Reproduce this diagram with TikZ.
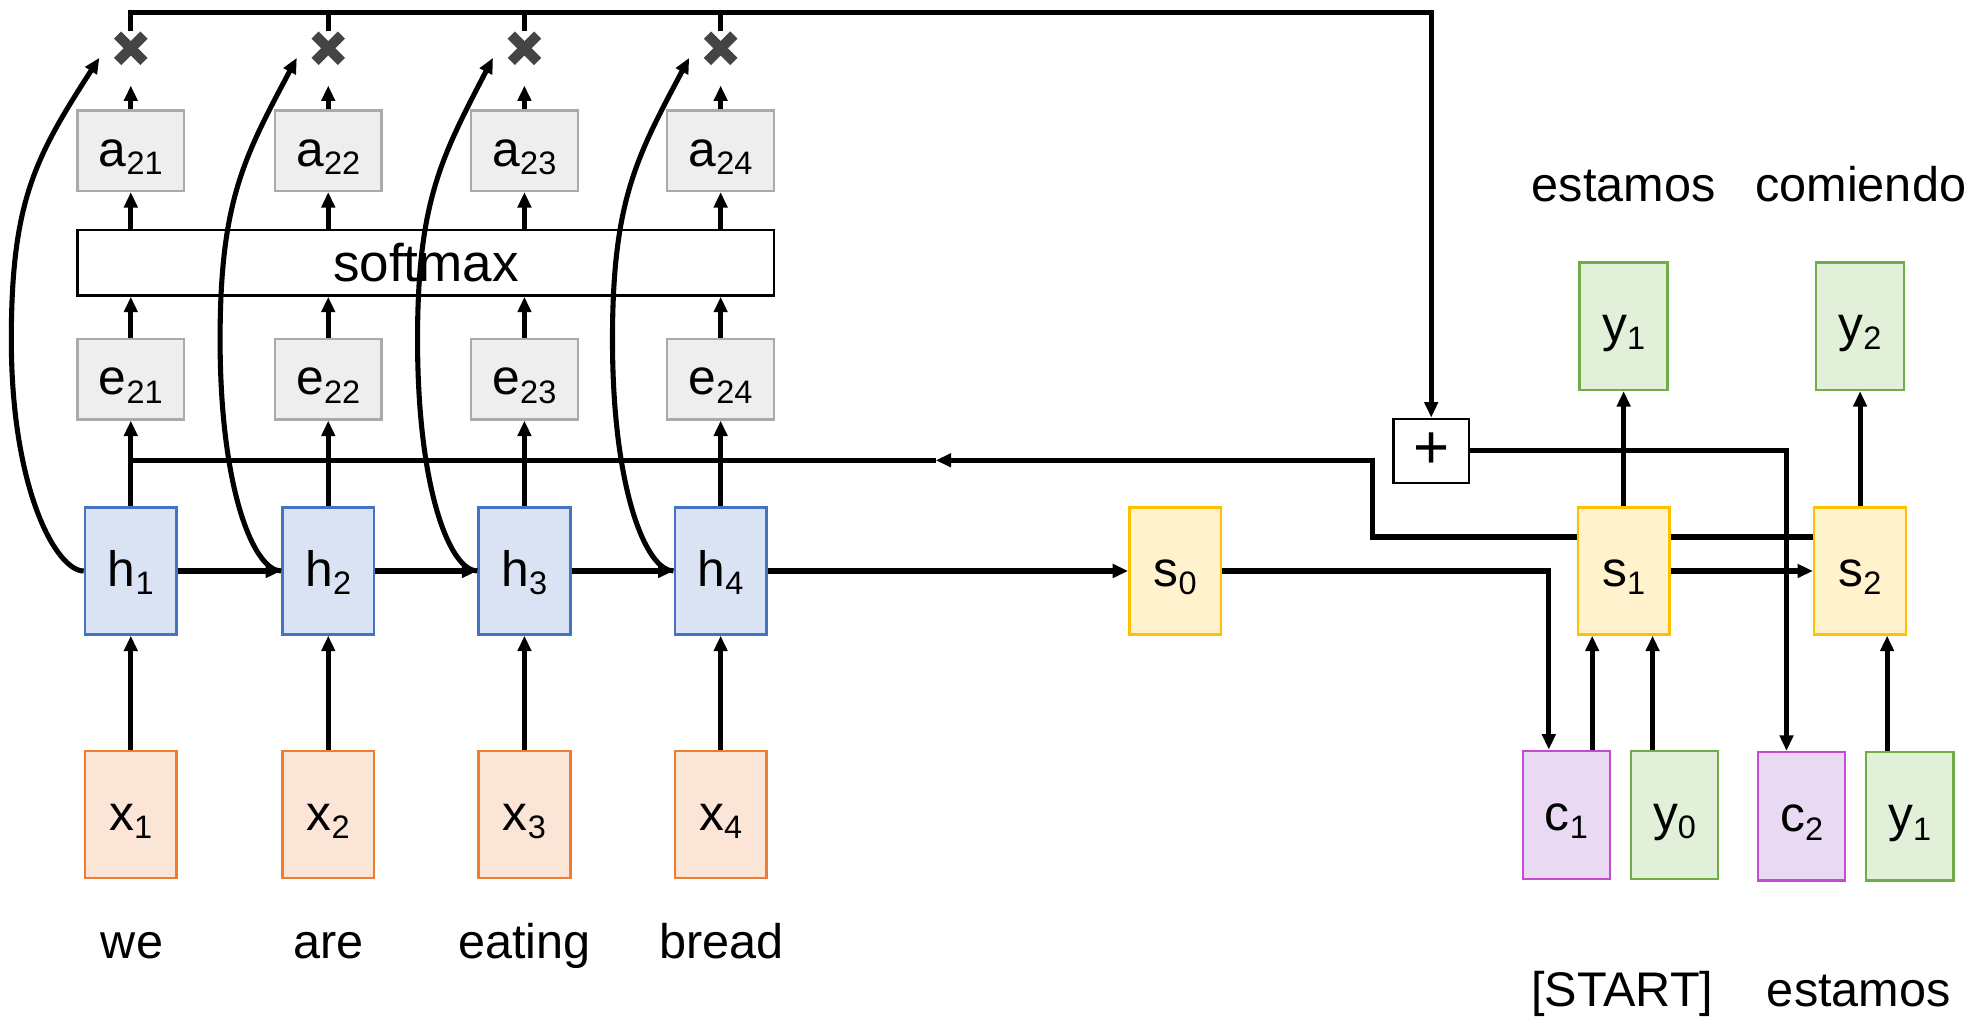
\documentclass[tikz,border=0pt]{standalone}
\usepackage{fontspec}
\setmainfont{Liberation Sans}
\usetikzlibrary{arrows.meta}
\definecolor{orF}{HTML}{FBE5D6}\definecolor{orD}{HTML}{ED7D31}
\definecolor{blF}{HTML}{DAE3F3}\definecolor{blD}{HTML}{4472C4}
\definecolor{grF}{HTML}{EEEEEE}\definecolor{grD}{HTML}{AAAAAA}
\definecolor{ylF}{HTML}{FFF2CC}\definecolor{ylD}{HTML}{FFC000}
\definecolor{gnF}{HTML}{E2EFD9}\definecolor{gnD}{HTML}{70AD47}
\definecolor{puF}{HTML}{E9D9F3}\definecolor{puD}{HTML}{C24BCF}
\definecolor{mulgray}{HTML}{444444}
\newcommand{\subi}[1]{\raisebox{-3.7pt}{\fontsize{14.7}{15}\selectfont #1}}
\begin{document}
\begin{tikzpicture}[x=0.02cm,y=-0.02cm,
  lbl/.style={font=\fontsize{22.5}{24}\selectfont, text height=0.6cm, text depth=0.1cm, inner sep=0pt},
  box/.style={lbl, draw, line width=1.1pt, minimum width=1.46cm, minimum height=2.02cm},
  xbox/.style={box, fill=orF, draw=orD},
  hbox/.style={box, fill=blF, draw=blD},
  sbox/.style={box, fill=ylF, draw=ylD},
  ybox/.style={box, fill=gnF, draw=gnD, minimum width=1.39cm, minimum height=2.04cm},
  cbox/.style={box, fill=puF, draw=puD, minimum width=1.38cm, minimum height=2.04cm},
  gbox/.style={lbl, draw=grD, fill=grF, line width=1.1pt, minimum width=1.70cm, minimum height=1.28cm},
  opbox/.style={draw=black, fill=white, line width=1.1pt, inner sep=0pt},
  word/.style={font=\fontsize{22}{24}\selectfont, inner sep=0pt, anchor=base},
  conn/.style={line width=2.3pt},
  arr/.style={conn, -{Triangle[length=7pt,width=6pt]}},
  mulx/.style={line width=4.6pt, color=mulgray},
  mulnode/.style={inner sep=0pt, minimum size=0.52cm},
]
\useasboundingbox (0,0) rectangle (1568,810);

% ---- encoder columns ----
\foreach \i/\cx in {1/104,2/261,3/417,4/573}{
  \node[xbox] (x\i) at (\cx,647.5) {x\subi{\i}};
  \node[hbox] (h\i) at (\cx,454) {h\subi{\i}};
  \node[gbox] (e\i) at (\cx,301.5) {e\subi{2\i}};
  \node[gbox] (a\i) at (\cx,119.8) {a\subi{2\i}};
  \node[mulnode] (m\i) at (\cx,38.4) {};
  \coordinate (am\i) at (\cx,68);
}
\node[opbox, minimum width=11.08cm, minimum height=1.04cm, font=\fontsize{24}{26}\selectfont] (sm) at (338.6,209) {softmax};

% ---- decoder ----
\node[sbox] (s0) at (934.5,454) {s\subi{0}};
\node[sbox] (s1) at (1291,454) {s\subi{1}};
\node[sbox] (s2) at (1479,454) {s\subi{2}};
\node[cbox] (c1) at (1245.5,648) {c\subi{1}};
\node[ybox] (y0) at (1331.5,648) {y\subi{0}};
\node[cbox] (c2) at (1432.5,649) {c\subi{2}};
\node[ybox] (yb1) at (1518.5,649) {y\subi{1}};
\node[ybox, minimum width=1.40cm, minimum height=2.03cm] (yt1) at (1291,259.3) {y\subi{1}};
\node[ybox, minimum width=1.40cm, minimum height=2.03cm] (yt2) at (1479,259.3) {y\subi{2}};
\node[opbox, minimum width=1.2cm, minimum height=1.02cm, font=\fontsize{28}{30}\selectfont] (plus) at (1138,358.5) {+};

% ---- words ----
\node[word] (w1) at (105,761.8) {we};
\node[word] (w2) at (261,761.8) {are};
\node[word] (w3) at (417,761.8) {eating};
\node[word] (w4) at (573.5,761.8) {bread};
\node[word] (w5) at (1290,800.2) {[START]};
\node[word] (w6) at (1478,800.2) {estamos};
\node[word] (w7) at (1291,160.3) {estamos};
\node[word] (w8) at (1479.5,160.3) {comiendo};

% ---- encoder connectors ----
\foreach \i/\cx/\L in {1/104/95,2/261/86,3/417/85,4/573/86}{
  \draw[arr] (x\i.north) -- (h\i.south);
  \draw[arr] (h\i.north) -- (e\i.south);
  \draw[arr] (e\i.north) -- (e\i.north |- sm.south);
  \draw[arr] (sm.north -| a\i) -- (a\i.south);
  \draw[arr] (a\i.north) -- (am\i);
  \draw[mulx] ([shift={(-10.5,-10.5)}]m\i.center) -- ([shift={(10.5,10.5)}]m\i.center);
  \draw[mulx] ([shift={(-10.5,10.5)}]m\i.center) -- ([shift={(10.5,-10.5)}]m\i.center);
  \coordinate (tip\i) at ({\cx-25},46);
  \draw[arr] (h\i.west) .. controls ({\cx-59},454) and ({\cx-\L},390) .. ({\cx-\L},270)
                        .. controls ({\cx-\L},160) and ({\cx-\L+19},125) .. (tip\i);
}
\draw[arr] (h1.east) -- (h2.west);
\draw[arr] (h2.east) -- (h3.west);
\draw[arr] (h3.east) -- (h4.west);
\draw[arr] (h4.east) -- (s0.west);

% top context line
\coordinate (topy) at (0,10);
\draw[arr] (m1.north) -- (m1.north |- topy) -| (plus.north);
\foreach \i in {2,3,4}{ \draw[conn] (m\i.north) -- (m\i.north |- topy); }

% feedback from decoder state
\coordinate (fbA) at (1091.5,366);
\coordinate (fbM) at (744,366);
\draw[arr] ([yshift=0.54cm]s1.west) -| (fbA) -- (fbM);
\draw[conn] (fbM) -- (fbM -| h1.north);
\draw[conn] ([yshift=0.54cm]s1.east) -- ([yshift=0.54cm]s2.west);

% decoder connectors
\draw[arr] (s0.east) -| ([xshift=-0.28cm]c1.north);
\draw[arr] ([xshift=0.41cm]c1.north) -- ([xshift=0.41cm]c1.north |- s1.south);
\draw[arr] ([xshift=-0.35cm]y0.north) -- ([xshift=-0.35cm]y0.north |- s1.south);
\draw[arr] (s1.east) -- (s2.west);
\draw[arr] (s1.north) -- (yt1.south);
\draw[arr] (s2.north) -- (yt2.south);
\draw[arr] ([xshift=-0.36cm]yb1.north) -- ([xshift=-0.36cm]yb1.north |- s2.south);
\draw[arr] (plus.east) -| ([xshift=-0.24cm]c2.north);
\end{tikzpicture}
\end{document}
